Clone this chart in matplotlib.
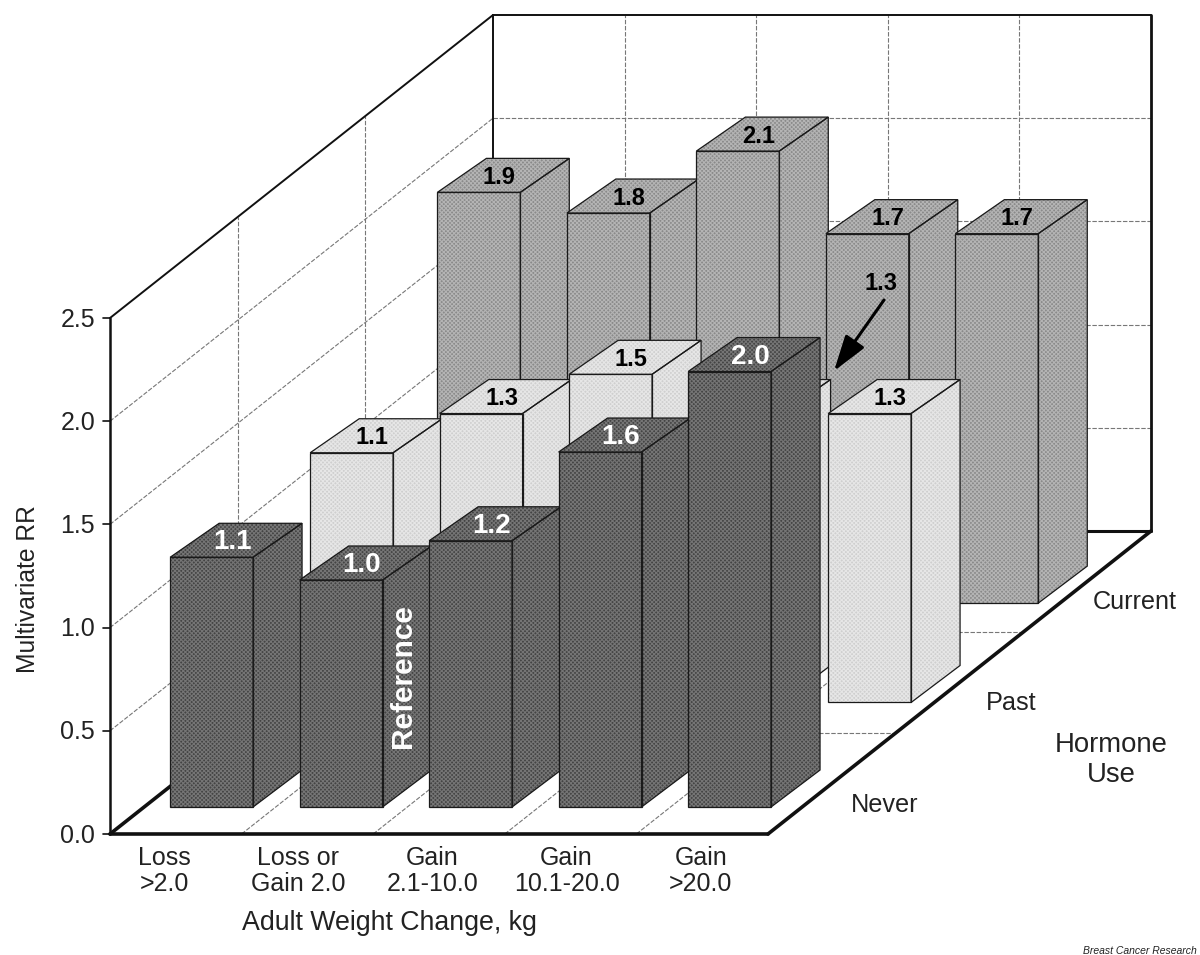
import matplotlib
matplotlib.use('Agg')
import matplotlib.pyplot as plt
from matplotlib.patches import Polygon

plt.rcParams['font.family'] = ['Liberation Sans', 'DejaVu Sans']
plt.rcParams['hatch.linewidth'] = 0.8

categories = ['Loss\n>2.0', 'Loss or\nGain 2.0', 'Gain\n2.1-10.0', 'Gain\n10.1-20.0', 'Gain\n>20.0']
hormone_use = ['Never', 'Past', 'Current']
y_ticks = [0.0, 0.5, 1.0, 1.5, 2.0, 2.5]

# heights as drawn in the picture, in axis units
never_heights = [1.21, 1.10, 1.29, 1.72, 2.11]
past_heights = [1.21, 1.40, 1.59, 1.40, 1.40]
current_heights = [1.99, 1.89, 2.19, 1.79, 1.79]

# printed RR values
never_rr = ['1.1', '1.0', '1.2', '1.6', '2.0']
past_rr = ['1.1', '1.3', '1.5', '1.3', '1.3']
current_rr = ['1.9', '1.8', '2.1', '1.7', '1.7']

# projection of the box on to the page
x0, y0 = 110, 834
cat_w = 131.6
depth_dx, depth_dy = 383, -303
unit_h = 206.4

def proj(c, d, v):
    return (x0 + c * cat_w + d * depth_dx, y0 + d * depth_dy - v * unit_h)

fig = plt.figure(figsize=(12, 9.55), dpi=100)
ax = fig.add_axes([0, 0, 1, 1])
ax.set_xlim(0, 1200)
ax.set_ylim(955, 0)
ax.axis('off')

def line(p, q, lw=0.8, color='#777777', ls=(0, (4, 1.5)), z=1):
    ax.plot([p[0], q[0]], [p[1], q[1]], color=color, lw=lw, ls=ls, zorder=z, solid_capstyle='round')

# gridlines
for v in y_ticks[1:-1]:
    line(proj(0, 0, v), proj(0, 1, v))
    line(proj(0, 1, v), proj(5, 1, v))
for d in [1 / 3, 2 / 3]:
    line(proj(0, d, 0), proj(0, d, 2.5))
    line(proj(0, d, 0), proj(5, d, 0))
for c in range(1, 5):
    line(proj(c, 1, 0), proj(c, 1, 2.5))
    line(proj(c, 0, 0), proj(c, 1, 0))

# box outline
solid = dict(color='#111111', ls='-', z=2)
line(proj(0, 0, 0), proj(5, 0, 0), lw=2.6, **solid)
line(proj(0, 0, 0), proj(0, 1, 0), lw=2.6, **solid)
line(proj(5, 0, 0), proj(5, 1, 0), lw=2.6, **solid)
line(proj(0, 1, 0), proj(5, 1, 0), lw=2.2, **solid)
line(proj(0, 0, 0), proj(0, 0, 2.5), lw=1.8, **solid)
line(proj(0, 1, 0), proj(0, 1, 2.5), lw=1.4, **solid)
line(proj(5, 1, 0), proj(5, 1, 2.5), lw=2.0, **solid)
line(proj(0, 0, 2.5), proj(0, 1, 2.5), lw=1.4, **solid)
line(proj(0, 1, 2.5), proj(5, 1, 2.5), lw=1.4, **solid)

for v in y_ticks:
    p = proj(0, 0, v)
    line((p[0] - 7, p[1]), p, lw=1.2, **solid)
    ax.text(p[0] - 15, p[1] + 1.5, '%.1f' % v, ha='right', va='center', fontsize=18, color='#222222')

# bars, back row first so that the front rows cover it
bar_w = 0.63
bar_step = 0.984
side_dx, side_bottom_dy, side_top_dy = 49, -37, -34
series = [
    (current_heights, current_rr, 0.762, 0.27, '#8a8a8a', '#b4b4b4', 'black', 17),
    (past_heights, past_rr, 0.434, 0.258, '#cfcfcf', '#e6e6e6', 'black', 17),
    (never_heights, never_rr, 0.089, 0.198, '#444444', '#757575', 'white', 20),
]
z = 5
for heights, labels, d, offset, fc, hc, tc, size in series:
    for i, h in enumerate(heights):
        c = offset + i * bar_step
        a = proj(c, d, 0)
        b = proj(c + bar_w, d, 0)
        e = (b[0] + side_dx, b[1] + side_bottom_dy)
        at = proj(c, d, h)
        bt = proj(c + bar_w, d, h)
        et = (bt[0] + side_dx, bt[1] + side_top_dy)
        ft = (at[0] + side_dx, at[1] + side_top_dy)
        for pts in ([a, b, bt, at], [b, e, et, bt], [at, bt, et, ft]):
            ax.add_patch(Polygon(pts, closed=True, facecolor=fc, edgecolor=hc, hatch='xxxxxxxx',
                                 lw=0, zorder=z))
            ax.add_patch(Polygon(pts, closed=True, fill=False, edgecolor='#1a1a1a', lw=0.9, zorder=z + 0.1))
        # the past bar behind the 2.0 column carries its value on the arrow instead
        if not (labels is past_rr and i == 3):
            ax.text(at[0] + 62, at[1] - 15, labels[i], ha='center', va='center', color=tc, fontsize=size,
                    fontweight='bold', zorder=z + 0.2)
        z += 1

ref_c = 0.198 + 1 * bar_step + bar_w
ref = proj(ref_c, 0.089, never_heights[1] / 2)
ax.text(ref[0] + 20, ref[1] - 17, 'Reference', rotation=90, ha='center', va='center', color='white',
        fontsize=21.5, fontweight='bold', zorder=z)

ax.text(881, 283, past_rr[3], ha='center', va='center', fontsize=17, fontweight='bold', zorder=z)
ax.annotate('', xy=(834, 371), xytext=(884, 300), zorder=z,
            arrowprops=dict(arrowstyle='-|>,head_length=2.2,head_width=0.7', color='black', lw=2.2,
                            shrinkA=0, shrinkB=0))

# axis text
for i, name in enumerate(categories):
    ax.text(164 + i * 134.2, 871, name, ha='center', va='center', fontsize=18,
            linespacing=1.11, color='#222222')
ax.text(389, 923, 'Adult Weight Change, kg', ha='center', va='center', fontsize=19.3, color='#222222')
ax.text(28, 589, 'Multivariate RR', rotation=90, ha='center', va='center', fontsize=17.7, color='#222222')
for name, pos in zip(hormone_use, [(885, 805), (1011, 703), (1135, 602)]):
    ax.text(pos[0], pos[1], name, ha='center', va='center', fontsize=18.2, color='#222222')
ax.text(1111, 760, 'Hormone\nUse', ha='center', va='center', fontsize=19.8, linespacing=1.22, color='#222222')
ax.text(1197, 951, 'Breast Cancer Research', ha='right', va='center', fontsize=7.5, style='italic', color='#222222')

fig.savefig('out.png', dpi=100)
